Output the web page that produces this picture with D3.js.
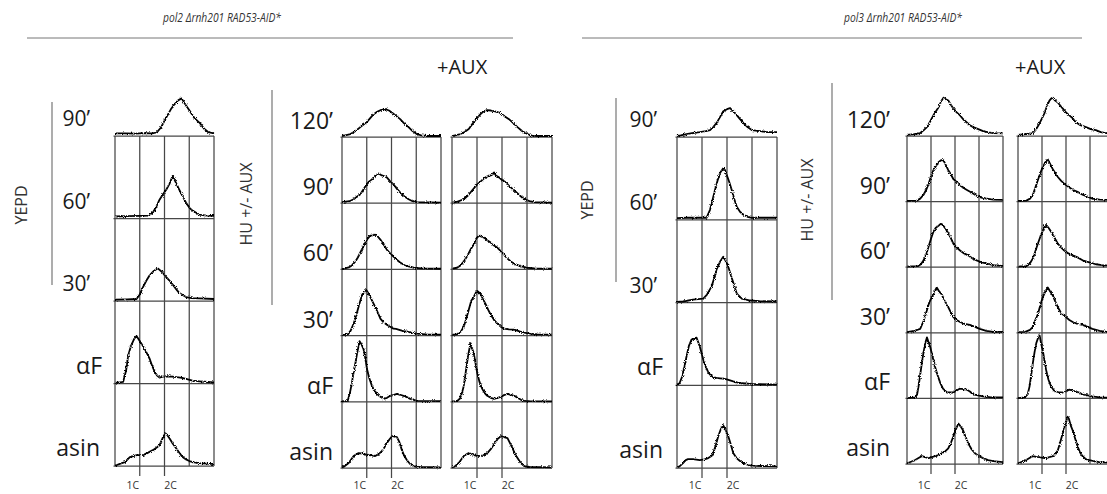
<!DOCTYPE html>
<html>
<head>
<meta charset="utf-8">
<script src="https://cdn.jsdelivr.net/npm/d3@7"></script>
<style>
  html, body { margin: 0; padding: 0; background: #fff; }
  svg { display: block; }
  text { font-family: "Open Sans", "DejaVu Sans", sans-serif; }
</style>
</head>
<body>
<svg id="fig" width="1107" height="494"></svg>
<script>
// ---- labels ----
const strainTitles = ["pol2 Δrnh201 RAD53-AID*", "pol3 Δrnh201 RAD53-AID*"];
const yepdRows = ["90’", "60’", "30’", "αF", "asin"];
const huRows = ["120’", "90’", "60’", "30’", "αF", "asin"];
const groupLabels = ["YEPD", "HU +/- AUX"];
const auxLabel = "+AUX";
const dnaGrid = [0, 1, 2, 3, 4];          // DNA content (C) grid lines
const ploidyTicks = [1, 2];
const ploidyLabels = ["1C", "2C"];

// ---- DNA content histograms: [DNA content (C), cell count] ----
const pol2Yepd = [
  [[0,8],[0.4,8],[0.8,7],[1.2,9],[1.5,8],[1.68,10],[1.85,25],[2.08,57],[2.25,80],[2.4,96],[2.55,108],[2.69,114],[2.85,95],[3.03,75],[3.2,55],[3.43,39],[3.6,22],[3.76,12],[4,8]],
  [[0,6],[0.5,7],[1,8],[1.35,9],[1.53,18],[1.67,36],[1.8,57],[1.95,75],[2.07,87],[2.2,105],[2.33,129],[2.45,110],[2.6,87],[2.75,65],[2.87,48],[3,33],[3.13,24],[3.4,12],[3.7,9],[4,8]],
  [[0,4],[0.5,5],[0.87,6],[1,20],[1.13,42],[1.27,62],[1.4,78],[1.55,90],[1.73,99],[1.9,88],[2.07,72],[2.2,62],[2.33,50],[2.47,36],[2.6,24],[2.87,12],[3.1,9],[3.4,8],[4,6]],
  [[0,2],[0.33,5],[0.45,40],[0.53,84],[0.65,115],[0.78,136],[0.87,144],[1,129],[1.1,117],[1.2,105],[1.3,90],[1.4,75],[1.5,54],[1.6,36],[1.7,24],[1.8,18],[1.93,21],[2.1,22],[2.3,21],[2.5,19],[2.7,17],[2.87,14],[3.13,9],[3.5,6],[4,3]],
  [[0,2],[0.07,3],[0.25,8],[0.4,12],[0.6,27],[0.75,30],[0.87,33],[1,33],[1.13,33],[1.3,39],[1.53,48],[1.7,57],[1.8,63],[1.92,84],[2.03,99],[2.1,95],[2.2,84],[2.33,68],[2.47,54],[2.6,40],[2.73,27],[2.87,20],[3,15],[3.2,11],[3.4,9],[3.7,7],[4,6]]
];
const pol2Hu = [
  [[0,3],[0.34,9],[0.55,18],[0.74,30],[1,45],[1.14,57],[1.28,69],[1.42,76],[1.55,81],[1.75,84],[1.9,80],[2,75],[2.2,63],[2.35,54],[2.5,42],[2.69,30],[2.85,18],[3.02,9],[3.2,5],[3.43,3],[4,3]],
  [[0,3],[0.3,6],[0.47,12],[0.74,27],[0.87,42],[1,57],[1.1,66],[1.21,72],[1.35,84],[1.48,90],[1.61,84],[1.72,81],[1.81,78],[1.95,66],[2.08,57],[2.2,45],[2.35,33],[2.5,22],[2.69,12],[2.85,6],[3.02,3],[4,2]],
  [[0,1],[0.27,6],[0.4,12],[0.54,24],[0.64,36],[0.74,51],[0.84,66],[0.94,81],[1.04,93],[1.14,102],[1.24,103],[1.34,105],[1.45,99],[1.55,90],[1.68,75],[1.81,60],[1.95,48],[2.08,39],[2.2,30],[2.35,21],[2.5,14],[2.69,9],[2.9,5],[3.2,3],[4,2]],
  [[0,2],[0.23,3],[0.35,15],[0.47,36],[0.57,60],[0.67,87],[0.74,105],[0.81,123],[0.9,132],[0.98,138],[1.06,129],[1.14,117],[1.24,102],[1.34,87],[1.45,69],[1.55,51],[1.68,40],[1.81,33],[1.95,27],[2.08,21],[2.18,20],[2.28,18],[2.45,14],[2.62,12],[2.8,9],[3.02,6],[3.4,4],[4,3]],
  [[0,1],[0.23,3],[0.32,27],[0.4,57],[0.47,90],[0.54,117],[0.62,150],[0.71,183],[0.78,175],[0.87,159],[0.94,132],[1.01,99],[1.1,72],[1.21,48],[1.3,36],[1.41,24],[1.55,15],[1.68,9],[1.82,12],[1.95,18],[2.1,21],[2.22,24],[2.35,21],[2.49,18],[2.62,14],[2.76,9],[2.9,6],[3.02,3],[4,2]],
  [[0,2],[0.1,5],[0.27,15],[0.47,36],[0.6,42],[0.67,45],[0.8,44],[0.87,42],[1,40],[1.08,39],[1.2,38],[1.34,36],[1.48,42],[1.61,51],[1.72,63],[1.81,75],[1.92,87],[2.02,96],[2.12,95],[2.22,93],[2.32,78],[2.42,54],[2.52,36],[2.62,24],[2.75,12],[2.89,6],[3.1,3],[4,2]]
];
const pol2HuAux = [
  [[0,3],[0.34,9],[0.5,15],[0.67,24],[0.87,45],[1,57],[1.14,69],[1.28,78],[1.41,81],[1.55,80],[1.68,78],[1.82,75],[1.95,72],[2.1,63],[2.28,54],[2.45,42],[2.62,30],[2.8,18],[3.02,9],[3.2,4],[3.4,3],[4,3]],
  [[0,2],[0.2,4],[0.47,12],[0.65,24],[0.81,39],[1.01,57],[1.15,66],[1.28,75],[1.42,81],[1.55,84],[1.62,87],[1.68,93],[1.75,84],[1.88,78],[2,70],[2.15,63],[2.3,51],[2.49,39],[2.7,24],[2.89,12],[3.1,6],[3.3,3],[4,2]],
  [[0,2],[0.2,5],[0.34,12],[0.47,24],[0.6,39],[0.74,60],[0.87,75],[0.97,93],[1.08,102],[1.18,99],[1.28,96],[1.42,87],[1.55,81],[1.68,72],[1.81,66],[1.95,55],[2.08,45],[2.2,34],[2.35,24],[2.55,15],[2.76,9],[3,5],[3.3,3],[4,2]],
  [[0,2],[0.2,4],[0.35,12],[0.47,27],[0.57,51],[0.67,78],[0.77,105],[0.87,117],[0.95,129],[1.01,135],[1.07,131],[1.14,126],[1.24,110],[1.34,96],[1.45,78],[1.55,63],[1.68,48],[1.81,36],[1.95,27],[2.08,21],[2.28,19],[2.49,18],[2.7,13],[2.89,9],[3.1,6],[3.4,4],[4,3]],
  [[0,1],[0.2,2],[0.32,10],[0.4,27],[0.47,48],[0.54,84],[0.6,117],[0.67,150],[0.74,177],[0.8,162],[0.87,147],[0.94,117],[1.01,87],[1.1,60],[1.21,39],[1.3,27],[1.41,18],[1.55,12],[1.68,9],[1.82,12],[1.95,15],[2.1,21],[2.22,24],[2.35,21],[2.49,18],[2.62,12],[2.76,6],[2.9,3],[3.1,2],[4,1]],
  [[0,2],[0.1,4],[0.27,15],[0.47,36],[0.6,42],[0.67,45],[0.8,42],[0.87,39],[1,37],[1.14,36],[1.28,40],[1.41,45],[1.55,57],[1.68,72],[1.82,87],[1.95,96],[2.08,93],[2.22,90],[2.32,75],[2.42,60],[2.52,42],[2.62,30],[2.75,15],[2.89,6],[3.1,3],[4,2]]
];
const pol3Yepd = [
  [[0,3],[0.2,6],[0.38,9],[0.6,12],[0.91,15],[1.15,18],[1.32,21],[1.45,30],[1.58,42],[1.72,60],[1.85,78],[2,84],[2.12,87],[2.25,78],[2.39,66],[2.52,54],[2.66,42],[2.82,30],[2.99,21],[3.15,19],[3.33,18],[3.6,15],[4,15]],
  [[0,5],[0.4,6],[0.8,6],[1.18,6],[1.32,30],[1.42,60],[1.52,90],[1.62,118],[1.72,141],[1.8,150],[1.85,156],[1.92,150],[1.99,135],[2.09,114],[2.19,90],[2.29,63],[2.39,39],[2.52,24],[2.66,15],[2.82,9],[2.99,6],[3.5,6],[4,6]],
  [[0,2],[0.24,3],[0.64,9],[1.05,12],[1.2,24],[1.38,48],[1.48,72],[1.58,99],[1.72,123],[1.85,138],[1.95,125],[2.05,108],[2.15,84],[2.25,60],[2.39,27],[2.59,12],[2.93,6],[3.3,4],[4,3]],
  [[0,2],[0.1,6],[0.21,27],[0.3,57],[0.38,87],[0.48,120],[0.58,138],[0.68,141],[0.78,144],[0.85,130],[0.91,117],[0.98,98],[1.05,78],[1.15,57],[1.25,39],[1.35,30],[1.45,24],[1.58,22],[1.72,21],[1.85,20],[1.99,18],[2.12,15],[2.25,12],[2.4,9],[2.59,6],[3,4],[3.33,3],[4,2]],
  [[0,2],[0.1,5],[0.24,15],[0.35,24],[0.44,27],[0.64,27],[0.91,24],[1.1,26],[1.25,30],[1.38,36],[1.45,45],[1.55,69],[1.65,96],[1.75,117],[1.85,129],[1.95,114],[2.05,96],[2.15,72],[2.25,45],[2.38,30],[2.52,21],[2.65,15],[2.79,9],[3,7],[3.33,6],[4,5]]
];
const pol3Hu = [
  [[0,3],[0.3,6],[0.55,9],[0.7,18],[0.83,27],[0.97,45],[1.1,63],[1.2,75],[1.31,87],[1.42,105],[1.52,117],[1.62,112],[1.72,108],[1.82,96],[1.93,84],[2.07,72],[2.21,63],[2.34,51],[2.48,42],[2.62,33],[2.76,27],[2.97,21],[3.17,15],[3.4,11],[3.59,9],[4,8]],
  [[0,2],[0.41,3],[0.55,9],[0.69,21],[0.8,36],[0.9,54],[1,78],[1.1,96],[1.2,108],[1.31,120],[1.42,126],[1.52,126],[1.62,111],[1.72,96],[1.82,84],[1.93,69],[2.07,60],[2.21,51],[2.34,42],[2.48,36],[2.7,27],[2.9,18],[3.1,12],[3.31,9],[3.6,6],[4,5]],
  [[0,2],[0.45,3],[0.58,9],[0.69,21],[0.8,39],[0.9,63],[1,87],[1.1,108],[1.2,120],[1.31,126],[1.4,132],[1.45,131],[1.55,123],[1.66,111],[1.8,93],[1.93,72],[2.07,60],[2.21,51],[2.38,42],[2.55,36],[2.72,27],[2.9,21],[3.1,15],[3.31,12],[3.6,6],[4,4]],
  [[0,2],[0.3,6],[0.55,12],[0.69,36],[0.83,69],[0.93,93],[1.03,108],[1.14,125],[1.24,138],[1.34,126],[1.45,117],[1.55,99],[1.66,87],[1.8,66],[1.93,48],[2.07,39],[2.21,33],[2.4,27],[2.62,24],[2.83,18],[3.03,12],[3.3,6],[3.59,3],[4,3]],
  [[0,1],[0.35,3],[0.42,12],[0.48,36],[0.55,72],[0.62,108],[0.69,141],[0.76,168],[0.83,186],[0.9,171],[0.97,156],[1.07,126],[1.17,96],[1.27,72],[1.38,48],[1.5,30],[1.66,18],[1.8,18],[1.93,18],[2.07,24],[2.21,30],[2.35,28],[2.48,27],[2.62,21],[2.76,12],[2.96,9],[3.17,6],[3.5,3],[4,3]],
  [[0,2],[0.14,6],[0.34,12],[0.48,18],[0.62,24],[0.76,21],[0.9,18],[1.03,21],[1.17,24],[1.31,27],[1.45,33],[1.6,39],[1.72,48],[1.82,63],[1.93,84],[2.03,105],[2.14,123],[2.24,114],[2.34,102],[2.45,81],[2.55,63],[2.69,45],[2.83,33],[3,24],[3.17,18],[3.38,12],[3.59,9],[4,6]]
];
const pol3HuAux = [
  [[0,3],[0.3,6],[0.62,9],[0.76,21],[0.9,39],[1,54],[1.1,69],[1.2,90],[1.31,108],[1.38,114],[1.45,117],[1.55,108],[1.66,102],[1.76,93],[1.86,84],[2,72],[2.14,63],[2.28,54],[2.41,42],[2.6,33],[2.83,27],[3.03,21],[3.24,18],[3.45,12],[3.66,9],[4,8]],
  [[0,2],[0.35,3],[0.5,9],[0.62,21],[0.72,42],[0.83,66],[0.93,87],[1.03,105],[1.14,120],[1.24,129],[1.3,120],[1.45,99],[1.55,87],[1.66,75],[1.8,63],[1.93,54],[2.1,45],[2.28,36],[2.48,30],[2.69,21],[2.9,15],[3.1,9],[3.4,6],[4,5]],
  [[0,2],[0.35,3],[0.5,12],[0.62,27],[0.72,48],[0.83,72],[0.93,93],[1.03,111],[1.1,123],[1.17,129],[1.27,120],[1.38,108],[1.52,90],[1.66,72],[1.8,60],[1.93,51],[2.1,42],[2.28,36],[2.48,30],[2.69,21],[2.97,15],[3.24,9],[3.5,6],[4,4]],
  [[0,2],[0.3,3],[0.5,9],[0.62,18],[0.72,39],[0.83,57],[0.93,84],[1.03,108],[1.14,126],[1.24,138],[1.34,126],[1.45,114],[1.55,96],[1.66,78],[1.8,60],[2,48],[2.14,39],[2.28,33],[2.48,27],[2.69,24],[2.9,18],[3.1,12],[3.4,6],[3.66,3],[4,3]],
  [[0,1],[0.28,3],[0.4,12],[0.48,36],[0.55,72],[0.62,108],[0.69,141],[0.76,168],[0.83,183],[0.9,192],[0.97,165],[1.03,147],[1.1,117],[1.17,87],[1.27,57],[1.38,36],[1.5,24],[1.59,21],[1.72,18],[1.86,18],[2,21],[2.14,27],[2.28,24],[2.41,21],[2.55,18],[2.69,12],[2.9,9],[3.1,6],[3.4,3],[4,2]],
  [[0,2],[0.14,6],[0.34,12],[0.48,18],[0.62,24],[0.76,22],[0.9,21],[1.03,19],[1.17,18],[1.31,21],[1.45,24],[1.56,30],[1.66,42],[1.76,66],[1.86,93],[1.96,120],[2.03,135],[2.07,144],[2.12,138],[2.2,117],[2.28,102],[2.38,78],[2.48,54],[2.58,36],[2.69,24],[2.83,15],[2.97,12],[3.17,9],[3.38,6],[4,3]]
];

// ---- layout ----
const panels = [
  { rows: yepdRows, hist: pol2Yepd,   x0: 115,  x1: 214,  top: 136, bottom: 466, cellMax: 250, labelEnd: [90, 90, 90, 102, 100], labelLift: 10 },
  { rows: huRows,   hist: pol2Hu,     x0: 342,  x1: 441,  top: 137, bottom: 468, cellMax: 200, labelEnd: 333, labelLift: 8 },
  { rows: huRows,   hist: pol2HuAux,  x0: 452,  x1: 552,  top: 137, bottom: 468, cellMax: 200 },
  { rows: yepdRows, hist: pol3Yepd,   x0: 677,  x1: 777,  top: 137, bottom: 468, cellMax: 250, labelEnd: [657, 657, 657, 663, 663], labelLift: 10 },
  { rows: huRows,   hist: pol3Hu,     x0: 907,  x1: 1003, top: 136, bottom: 464, cellMax: 200, labelEnd: 890, labelLift: 8 },
  { rows: huRows,   hist: pol3HuAux,  x0: 1018, x1: 1114, top: 136, bottom: 464, cellMax: 200 }
];

const svg = d3.select("#fig");

// fine grain along the cytometer traces
const defs = svg.append("defs");
const grain = defs.append("filter").attr("id", "grain")
  .attr("filterUnits", "userSpaceOnUse")
  .attr("x", 0).attr("y", 0).attr("width", 1107).attr("height", 494);
grain.append("feTurbulence").attr("type", "fractalNoise")
  .attr("baseFrequency", 1.1).attr("numOctaves", 2).attr("seed", 7).attr("result", "n");
grain.append("feDisplacementMap").attr("in", "SourceGraphic").attr("in2", "n")
  .attr("scale", 3).attr("xChannelSelector", "R").attr("yChannelSelector", "G");

const gridColor = "#474747";

panels.forEach(p => {
  const x = d3.scaleLinear().domain([0, 4]).range([p.x0, p.x1]);
  const rowY = d3.scalePoint().domain(p.rows).range([p.top, p.bottom]);
  const step = rowY.step();
  const g = svg.append("g");

  // vertical DNA content grid
  g.selectAll("line.v").data(dnaGrid).join("line")
    .attr("x1", d => x(d)).attr("x2", d => x(d))
    .attr("y1", p.top)
    .attr("y2", d => ploidyTicks.includes(d) ? p.bottom + 10 : p.bottom)
    .attr("stroke", gridColor).attr("stroke-width", 1.25);

  // baselines of each sample
  g.selectAll("line.h").data(p.rows).join("line")
    .attr("x1", x(0) - 1.5).attr("x2", x(4))
    .attr("y1", d => rowY(d)).attr("y2", d => rowY(d))
    .attr("stroke", gridColor).attr("stroke-width", 1.25);

  // histograms
  p.rows.forEach((r, i) => {
    const b = rowY(r);
    const y = d3.scaleLinear().domain([0, p.cellMax]).range([b, b - step]);
    const line = d3.line().x(d => x(d[0])).y(d => y(d[1]));
    g.append("path").datum(p.hist[i])
      .attr("d", line)
      .attr("fill", "none").attr("stroke", "#000")
      .attr("stroke-width", 1.8).attr("stroke-linejoin", "round")
      .attr("filter", "url(#grain)");
  });

  // ploidy labels
  g.selectAll("text.pl").data(ploidyTicks).join("text")
    .attr("x", (d, i) => x(d) + (i === 0 ? -7 : 6))
    .attr("y", 489)
    .attr("text-anchor", "middle")
    .attr("font-size", 10.5).attr("fill", "#333")
    .text((d, i) => ploidyLabels[i]);

  // sample labels
  if (p.labelEnd !== undefined) {
    g.selectAll("text.row").data(p.rows).join("text")
      .attr("x", (d, i) => Array.isArray(p.labelEnd) ? p.labelEnd[i] : p.labelEnd)
      .attr("y", d => rowY(d) - p.labelLift)
      .attr("text-anchor", "end")
      .attr("font-size", d => (p.cellMax === 250 && /\d/.test(d)) ? 21 : 23)
      .attr("fill", "#1a1a1a")
      .text(d => d);
  }
});

// strain headers
const headers = [
  { cx: 222, l0: 27, l1: 513, aux: 437, groups: [{ x: 21, y: 205, bx: 52, by0: 102, by1: 285 }, { x: 246, y: 204, bx: 272, by0: 90, by1: 305 }] },
  { cx: 903, l0: 582, l1: 1082, aux: 1015, groups: [{ x: 587, y: 200, bx: 616, by0: 98, by1: 282 }, { x: 807, y: 200, bx: 832, by0: 83, by1: 300 }] }
];

headers.forEach((h, s) => {
  svg.append("text").attr("x", h.cx).attr("y", 22)
    .attr("text-anchor", "middle").attr("font-size", 12.5)
    .attr("font-style", "italic").attr("fill", "#333")
    .attr("textLength", 118).attr("lengthAdjust", "spacingAndGlyphs")
    .text(strainTitles[s]);
  svg.append("line").attr("x1", h.l0).attr("x2", h.l1).attr("y1", 38).attr("y2", 38)
    .attr("stroke", "#777").attr("stroke-width", 1);
  svg.append("text").attr("x", h.aux).attr("y", 74)
    .attr("font-size", 20).attr("fill", "#1a1a1a").text(auxLabel);
  h.groups.forEach((gp, k) => {
    svg.append("text")
      .attr("transform", `translate(${gp.x},${gp.y}) rotate(-90)`)
      .attr("text-anchor", "middle").attr("dominant-baseline", "central")
      .attr("font-size", 16).attr("fill", "#333")
      .text(groupLabels[k]);
    svg.append("line").attr("x1", gp.bx).attr("x2", gp.bx)
      .attr("y1", gp.by0).attr("y2", gp.by1)
      .attr("stroke", "#999").attr("stroke-width", 1.6);
  });
});
</script>
</body>
</html>
